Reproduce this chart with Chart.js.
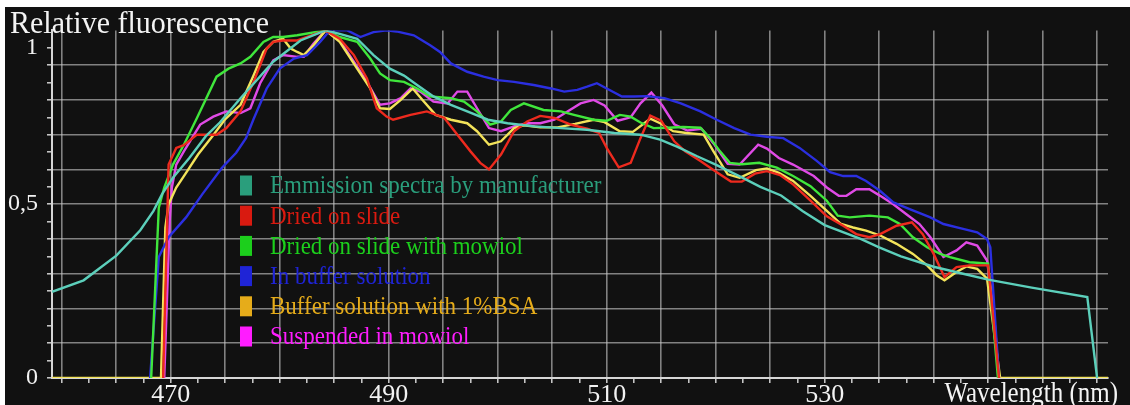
<!DOCTYPE html>
<html><head><meta charset="utf-8">
<script src="https://cdn.jsdelivr.net/npm/chart.js@4.4.1/dist/chart.umd.min.js"></script>
<style>
html,body{margin:0;padding:0;background:#fff;width:1130px;height:405px;overflow:hidden}
#wrap{position:absolute;left:5px;top:7px;width:1125px;height:398px;background:#111}
canvas{display:block}
</style></head><body>
<div id="wrap"><canvas id="c" width="1125" height="398"></canvas></div>
<script>
// ---- Series names and colours ----
const seriesNames = [
  'Emmission spectra by manufacturer',
  'Dried on slide',
  'Dried on slide with mowiol',
  'In buffer solution',
  'Buffer solution with 1%BSA',
  'Suspended in mowiol'
];
const lineColors = ['#5ccfbb', '#ee2a1e', '#40e63c', '#2b2fe0', '#f3e35a', '#e04ae6'];
const legendColors = ['#2a9e7c', '#d91a10', '#1ccf1c', '#1f24d6', '#e6ac1a', '#ff1cff'];

// ---- Data (wavelength nm / relative fluorescence) ----
const wlManufacturer = [459.1,462.0,465.0,467.2,468.4,469.2,470.2,471.7,473.2,474.5,476.4,479.4,481.9,484.2,485.5,487.1,488.6,490.1,491.4,492.6,494.1,495.7,497.2,499.1,500.9,503.4,505.8,508.2,510.7,513.1,514.9,516.5,518.3,520.0,522.4,524.1,526.0,528.0,530.0,533.3,535.0,537.0,540.0,542.7,545.0,549.0,554.1,555.0];
const valManufacturer = [0.248,0.281,0.352,0.425,0.48,0.529,0.576,0.633,0.695,0.735,0.805,0.91,0.971,1.0,0.99,0.976,0.929,0.89,0.87,0.843,0.81,0.786,0.767,0.743,0.733,0.724,0.719,0.714,0.705,0.7,0.686,0.665,0.638,0.614,0.577,0.55,0.525,0.48,0.44,0.4,0.376,0.35,0.32,0.3,0.283,0.26,0.233,0];

const wlDried = [469.3,469.8,470.5,471.2,472.4,473.3,474.2,475.1,476.4,477.6,478.8,479.4,480.3,481.6,482.5,484.2,485.5,486.8,488.0,488.9,489.8,490.4,492.0,493.5,495.1,496.3,497.5,498.4,499.2,500.3,501.5,502.7,503.9,505.2,506.7,508.2,509.3,510.0,511.1,512.2,513.1,514.0,515.0,516.2,517.2,518.6,520.1,521.4,522.4,523.6,524.7,525.9,527.1,528.7,530.2,531.7,532.9,534.1,535.1,536.6,538.0,539.0,540.0,541.0,542.1,543.3,545.0,546.0];
const valDried = [0,0.614,0.662,0.67,0.7,0.7,0.7,0.719,0.767,0.852,0.948,0.967,0.971,0.971,0.981,1.0,0.976,0.929,0.862,0.776,0.752,0.743,0.757,0.767,0.748,0.7,0.652,0.619,0.6,0.643,0.71,0.738,0.754,0.748,0.729,0.717,0.705,0.662,0.606,0.619,0.69,0.755,0.74,0.681,0.652,0.624,0.592,0.565,0.565,0.588,0.595,0.584,0.557,0.51,0.465,0.438,0.414,0.405,0.414,0.438,0.448,0.414,0.357,0.29,0.319,0.324,0.324,0];

const wlDriedMowiol = [468.2,468.9,469.4,470.2,471.2,472.4,474.2,475.3,476.4,477.3,478.5,479.4,480.3,481.6,484.2,485.5,487.1,488.3,489.2,490.1,491.4,492.6,493.8,495.7,496.9,498.1,499.3,500.3,501.2,502.4,504.2,505.8,507.0,508.8,510.0,511.2,512.2,513.1,514.3,515.6,517.0,518.6,519.5,520.4,521.3,522.4,524.0,525.6,527.1,528.7,530.2,531.2,532.3,534.1,535.8,536.9,538.1,539.4,540.6,541.5,543.3,545.0,545.9];
const valDriedMowiol = [0,0.49,0.548,0.614,0.671,0.748,0.867,0.89,0.905,0.924,0.967,0.981,0.981,0.986,1.0,0.981,0.967,0.919,0.876,0.857,0.852,0.833,0.81,0.805,0.795,0.767,0.729,0.738,0.771,0.79,0.771,0.767,0.757,0.743,0.74,0.757,0.752,0.735,0.719,0.72,0.722,0.72,0.69,0.652,0.619,0.615,0.619,0.605,0.581,0.552,0.51,0.467,0.462,0.467,0.462,0.443,0.405,0.376,0.357,0.348,0.333,0.329,0];

const wlBuffer = [468.1,468.9,469.8,471.4,472.9,474.7,476.0,476.9,477.6,478.8,480.0,481.3,482.5,483.7,484.6,486.2,487.4,488.6,489.8,490.7,492.3,493.8,494.7,495.7,497.2,498.7,500.0,501.5,503.3,504.9,506.1,507.3,508.2,509.1,510.0,511.4,512.5,513.7,515.3,516.8,518.6,520.1,521.7,523.2,524.7,526.2,527.7,529.3,530.5,531.7,532.9,533.8,535.1,536.3,537.8,539.7,540.9,542.7,544.0,544.9,545.2,546.0];
const valBuffer = [0,0.348,0.405,0.462,0.529,0.605,0.648,0.69,0.745,0.833,0.89,0.919,0.929,0.967,1.0,1.0,0.981,0.995,1.0,0.997,0.986,0.957,0.938,0.905,0.881,0.867,0.857,0.852,0.843,0.833,0.824,0.829,0.838,0.848,0.833,0.81,0.81,0.811,0.805,0.79,0.767,0.743,0.719,0.7,0.694,0.69,0.662,0.624,0.592,0.581,0.581,0.567,0.538,0.505,0.486,0.462,0.443,0.429,0.419,0.4,0.376,0];

const wlBSA = [459.1,469.1,469.5,469.8,470.5,471.4,472.5,473.8,475.0,476.4,477.6,478.5,479.4,480.3,481.0,481.6,482.2,483.1,484.2,485.5,487.1,488.3,489.2,490.1,491.1,492.2,493.1,494.3,495.7,497.2,498.1,499.2,500.3,501.5,502.4,503.9,505.5,507.1,508.8,509.8,511.2,512.4,514.0,514.9,516.1,517.3,518.9,519.8,521.1,522.2,523.7,524.7,525.8,527.1,528.7,530.2,531.5,532.6,533.8,535.1,536.6,538.1,539.4,540.3,541.0,542.1,543.0,544.0,544.9,546.1,556.0];
const valBSA = [0,0,0.433,0.5,0.548,0.59,0.643,0.695,0.745,0.786,0.871,0.938,0.967,0.976,0.948,0.938,0.929,0.957,1.0,0.967,0.89,0.833,0.776,0.774,0.8,0.833,0.8,0.757,0.743,0.733,0.71,0.671,0.681,0.719,0.727,0.721,0.721,0.731,0.743,0.736,0.71,0.708,0.746,0.733,0.71,0.705,0.7,0.652,0.586,0.576,0.598,0.603,0.59,0.567,0.524,0.481,0.443,0.433,0.424,0.41,0.386,0.357,0.324,0.295,0.281,0.305,0.321,0.314,0.286,0,0];

const wlSuspMowiol = [469.4,469.9,470.1,470.5,471.2,472.7,473.9,475.1,476.4,477.3,478.2,479.4,480.3,481.6,482.2,483.1,484.2,485.5,486.8,488.0,489.2,490.1,491.1,492.0,492.9,494.1,495.4,496.3,497.2,498.1,499.2,500.3,501.5,502.7,503.9,505.2,506.4,507.6,508.8,509.8,511.0,512.2,513.1,514.1,515.1,516.2,517.4,518.7,519.9,521.1,522.2,523.9,524.7,525.8,527.1,529.0,530.2,531.3,532.0,532.9,534.1,535.1,536.3,537.5,538.7,539.7,540.9,542.1,543.0,544.0,544.9,545.5,546.0];
const valSuspMowiol = [0,0.452,0.548,0.614,0.652,0.729,0.752,0.767,0.762,0.776,0.848,0.914,0.929,0.924,0.924,0.962,1.0,0.971,0.91,0.852,0.786,0.79,0.805,0.833,0.824,0.795,0.79,0.824,0.824,0.776,0.719,0.71,0.724,0.733,0.733,0.743,0.767,0.79,0.8,0.784,0.74,0.75,0.79,0.821,0.784,0.73,0.712,0.717,0.671,0.616,0.614,0.671,0.66,0.633,0.614,0.581,0.548,0.524,0.524,0.543,0.543,0.524,0.5,0.471,0.443,0.405,0.348,0.367,0.39,0.381,0.338,0.2,0];

const seriesWl = [wlManufacturer, wlDried, wlDriedMowiol, wlBuffer, wlBSA, wlSuspMowiol];
const seriesVal = [valManufacturer, valDried, valDriedMowiol, valBuffer, valBSA, valSuspMowiol];

// ---- Axis texts ----
const yTitle = 'Relative fluorescence';
const xTitle = 'Wavelength (nm)';
const xLabelValues = [470, 490, 510, 530];
const yLabelValues = [0, 0.5, 0.95];
const yLabelTexts = ['0', '0,5', '1'];

const xMin = 459.1, xMax = 556, yMin = 0, yMax = 1;
const xTickValues = []; for (let v = 460; v <= 555; v += 2.5) xTickValues.push(v);
const yTickValues = []; for (let i = 0; i <= 19; i++) yTickValues.push(i * 0.05);

const FONT = '"Liberation Serif", "Times New Roman", serif';
const gridCol = 'rgba(200,200,200,0.62)';

const datasets = seriesNames.map((name, i) => ({
  label: name,
  data: seriesWl[i].map((x, j) => ({x: x, y: seriesVal[i][j]})),
  borderColor: lineColors[i],
  backgroundColor: lineColors[i],
  borderWidth: 2.4,
  pointRadius: 0,
  fill: false,
  tension: 0
}));

function stretchedText(ctx, txt, x, y, sy) {
  ctx.save();
  ctx.translate(x, y);
  ctx.scale(1, sy);
  ctx.fillText(txt, 0, 0);
  ctx.restore();
}

const textPlugin = {
  id: 'texts',
  afterDatasetsDraw(chart) {
    const ctx = chart.ctx;
    ctx.save();
    // legend
    ctx.font = '23px ' + FONT;
    ctx.textAlign = 'left';
    ctx.textBaseline = 'middle';
    for (let i = 0; i < seriesNames.length; i++) {
      const cy = 178.5 + i * 30.2;
      ctx.fillStyle = legendColors[i];
      ctx.fillRect(235, cy - 10, 12, 20);
      stretchedText(ctx, seriesNames[i], 265, cy + 1, 1.13);
    }
    ctx.restore();
  },
  afterDraw(chart) {
    const ctx = chart.ctx;
    ctx.save();
    ctx.fillStyle = '#f4f4f4';
    ctx.font = '30px ' + FONT;
    ctx.textAlign = 'left';
    ctx.textBaseline = 'alphabetic';
    stretchedText(ctx, yTitle, 5, 26, 1.05);
    ctx.font = '25px ' + FONT;
    ctx.textAlign = 'right';
    stretchedText(ctx, xTitle, 1113, 395, 1.15);
    ctx.restore();
  }
};

new Chart(document.getElementById('c'), {
  type: 'line',
  data: { datasets },
  options: {
    responsive: false,
    animation: false,
    devicePixelRatio: 1,
    layout: { padding: { left: 0, top: 21, right: 22, bottom: 0 } },
    plugins: { legend: { display: false }, tooltip: { enabled: false }, title: { display: false } },
    scales: {
      x: {
        type: 'linear', min: xMin, max: xMax,
        afterBuildTicks: s => { s.ticks = xTickValues.map(v => ({ value: v })); },
        afterFit: s => { s.height = 27; },
        ticks: {
          autoSkip: false, maxRotation: 0, padding: -3,
          color: '#f2f2f2', font: { family: FONT, size: 26 },
          callback: v => xLabelValues.some(l => Math.abs(l - v) < 1e-6) ? String(v) : ''
        },
        grid: {
          color: c => (Math.abs(c.tick.value / 5 - Math.round(c.tick.value / 5)) < 1e-6) ? gridCol : 'rgba(0,0,0,0)',
          lineWidth: 1.6, drawTicks: true, tickLength: 5, tickColor: '#cfcfcf', tickWidth: 1.5
        },
        border: { display: true, color: '#d6d6d6', width: 2 }
      },
      y: {
        type: 'linear', min: yMin, max: yMax,
        afterBuildTicks: s => { s.ticks = yTickValues.map(v => ({ value: v })); },
        afterFit: s => { s.width = 47; },
        ticks: {
          autoSkip: false, padding: 9,
          color: '#f2f2f2', font: { family: FONT, size: 24 },
          callback: v => { const k = yLabelValues.findIndex(l => Math.abs(l - v) < 1e-6); return k >= 0 ? yLabelTexts[k] : ''; }
        },
        grid: {
          color: c => { const n = Math.round(c.tick.value * 20); return (n % 2 === 0 && n > 0 && n < 20) ? gridCol : 'rgba(0,0,0,0)'; },
          lineWidth: 1.6, drawTicks: true, tickLength: 5, tickColor: '#cfcfcf', tickWidth: 1.5
        },
        border: { display: true, color: '#d6d6d6', width: 2 }
      }
    }
  },
  plugins: [textPlugin]
});
</script>
</body></html>
